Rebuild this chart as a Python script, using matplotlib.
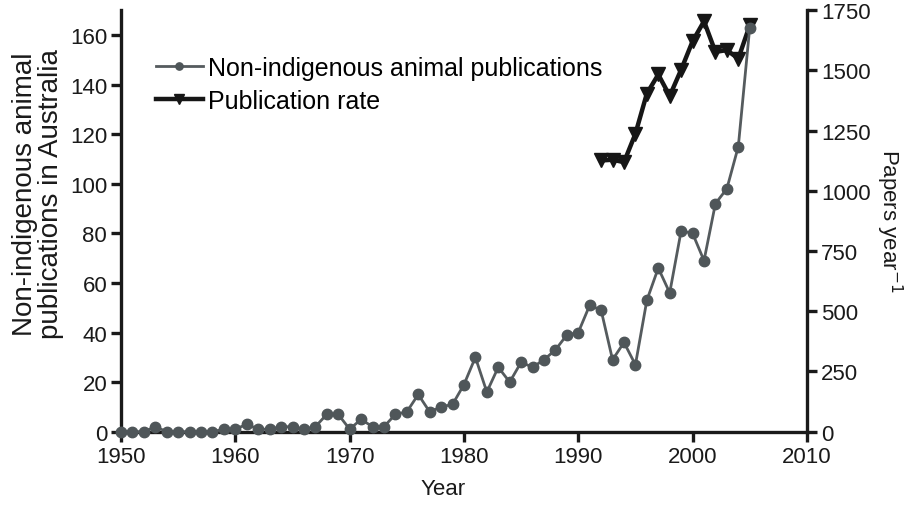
import matplotlib
matplotlib.use("Agg")
import matplotlib.pyplot as plt

plt.rcParams["font.family"] = ["Liberation Sans", "DejaVu Sans"]

years = list(range(1950, 2006))
publications = [0, 0, 0, 2, 0, 0, 0, 0, 0, 1,
                1, 3, 1, 1, 2, 2, 1, 2, 7, 7,
                1, 5, 2, 2, 7, 8, 15, 8, 10, 11,
                19, 30, 16, 26, 20, 28, 26, 29, 33, 39,
                40, 51, 49, 29, 36, 27, 53, 66, 56, 81,
                80, 69, 92, 98, 115, 163]

rate_years = list(range(1992, 2006))
rate = [1126, 1129, 1119, 1237, 1404, 1483, 1394, 1503, 1621, 1704,
        1577, 1584, 1549, 1687]

left_ticks = [0, 20, 40, 60, 80, 100, 120, 140, 160]
right_ticks = [0, 250, 500, 750, 1000, 1250, 1500, 1750]
x_ticks = [1950, 1960, 1970, 1980, 1990, 2000, 2010]

ink = "#1a1a1a"
fig = plt.figure(figsize=(9.06, 5.06), dpi=100)
ax = fig.add_axes([0.1336, 0.1449, 0.757, 0.833])
ax2 = ax.twinx()

l1, = ax.plot(years, publications, "-o", color="#555b5e", lw=2.0, ms=7.5,
              mfc="#4f5659", mec="#4f5659", clip_on=False, zorder=3,
              label="Non-indigenous animal publications")
l2, = ax2.plot(rate_years, rate, "-v", color="#161616", lw=3.2, ms=9.5,
               clip_on=False, label="Publication rate")

# circles sit above the rate line, as in the original
ax.set_zorder(ax2.get_zorder() + 1)
ax.patch.set_visible(False)

ax.set_xlim(1950, 2010)
ax.set_ylim(0, 170)
ax2.set_ylim(0, 1750)
ax.set_xticks(x_ticks)
ax.set_yticks(left_ticks)
ax2.set_yticks(right_ticks)

for a in (ax, ax2):
    a.spines["top"].set_visible(False)
    for side in ("left", "right", "bottom"):
        a.spines[side].set_linewidth(2.4)
        a.spines[side].set_color(ink)
    a.tick_params(width=2.4, length=7, labelsize=16, color=ink,
                  labelcolor=ink, pad=3)
ax.spines["right"].set_visible(False)
ax2.spines["left"].set_visible(False)
ax2.spines["bottom"].set_visible(False)

fig.text(443 / 906, 1 - 490 / 506, "Year", fontsize=16, color=ink,
         ha="center", va="center")
fig.text(38 / 906, 1 - 194 / 506,
         "Non-indigenous animal\npublications in Australia", fontsize=20,
         color=ink, rotation=90, ha="center", va="center",
         multialignment="center", linespacing=1.0)
fig.text(889 / 906, 1 - 221 / 506, "Papers year$^{-1}$", fontsize=16,
         color=ink, rotation=-90, ha="center", va="center")

ax.legend(handles=[l1, l2], loc="upper left", bbox_to_anchor=(0.036, 0.915),
          frameon=False, fontsize=18, handlelength=1.9, handletextpad=0.2,
          labelspacing=0.35, borderaxespad=0, markerscale=0.7)

fig.savefig("out.png", dpi=100)
